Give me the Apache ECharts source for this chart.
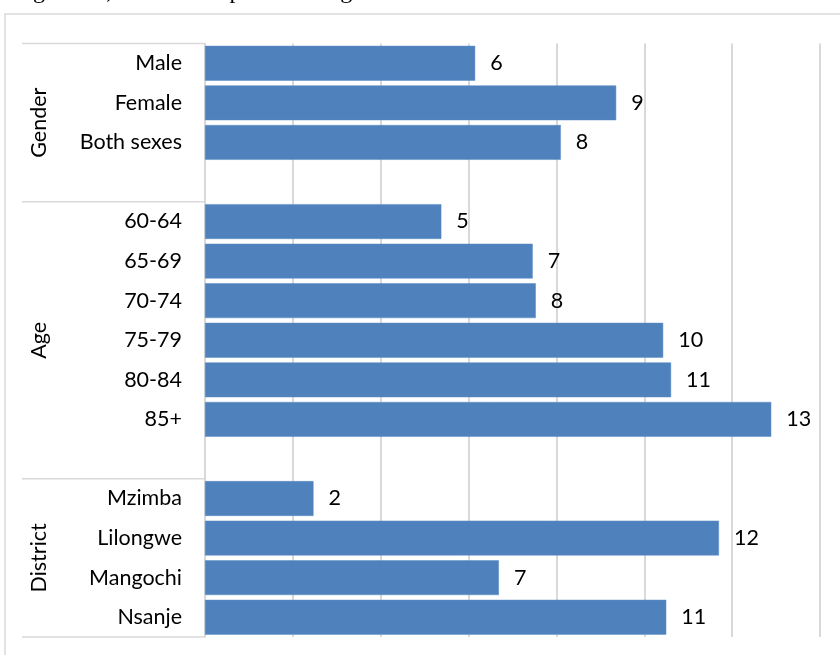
<!DOCTYPE html>
<html>
<head>
<meta charset="utf-8">
<script src="https://cdn.jsdelivr.net/npm/echarts@6/dist/echarts.min.js"></script>
<style>
  html, body { margin: 0; padding: 0; background: #fff; }
  #chart { width: 840px; height: 655px; }
</style>
</head>
<body>
<div id="chart"></div>
<script>
// groups of the category axis
var groupNames = ['Gender', 'Age', 'District'];
var genderLabels = ['Male', 'Female', 'Both sexes'];
var genderValues = [6.15, 9.36, 8.1];
var ageLabels = ['60-64', '65-69', '70-74', '75-79', '80-84', '85+'];
var ageValues = [5.38, 7.46, 7.53, 10.43, 10.61, 12.89];
var districtLabels = ['Mzimba', 'Lilongwe', 'Mangochi', 'Nsanje'];
var districtValues = [2.47, 11.7, 6.69, 10.5];

var groupLabels = [genderLabels, ageLabels, districtLabels];
var groupValues = [genderValues, ageValues, districtValues];

// flatten with an empty slot between groups
var categories = [];
var values = [];
var groupStart = [];
for (var g = 0; g < groupLabels.length; g = g + 1) {
    if (g > 0) {
        categories.push(' ' + g);
        values.push(null);
    }
    groupStart.push(categories.length);
    for (var i = 0; i < groupLabels[g].length; i = i + 1) {
        categories.push(groupLabels[g][i]);
        values.push(groupValues[g][i]);
    }
}

var font = 'Lato';
var fontSize = 21.5;
var chart = echarts.init(document.getElementById('chart'));
chart.setOption({
    animation: false,
    grid: {left: 205, top: 43.5, width: 615, height: 593.5},
    xAxis: {
        type: 'value',
        min: 0,
        max: 14,
        interval: 2,
        axisLabel: {show: false},
        axisLine: {show: false},
        axisTick: {show: false},
        splitLine: {lineStyle: {color: '#d9d9d9', width: 2}}
    },
    yAxis: {
        type: 'category',
        inverse: true,
        data: categories,
        axisLine: {lineStyle: {color: '#d9d9d9', width: 1.5}},
        axisTick: {show: false},
        axisLabel: {
            margin: 23,
            color: '#000',
            fontFamily: font,
            fontSize: fontSize,
            formatter: function (v) {
                return v.charAt(0) === ' ' ? '' : v;
            }
        }
    },
    series: [{
        type: 'bar',
        data: values,
        barCategoryGap: '12%',
        itemStyle: {color: '#4f81bd', borderColor: '#5b8cc6', borderWidth: 0.5},
        label: {
            show: true,
            position: 'right',
            distance: 15,
            color: '#000',
            fontFamily: font,
            fontSize: fontSize,
            formatter: function (p) {
                return p.value == null ? '' : Math.round(p.value);
            }
        }
    }]
});

// multi-level axis: separators and rotated group names
function catEdge(idx) {
    var a = chart.convertToPixel({yAxisIndex: 0}, categories[0]);
    var b = chart.convertToPixel({yAxisIndex: 0}, categories[1]);
    var band = b - a;
    return a - band / 2 + band * idx;
}
var graphics = [{
    type: 'rect',
    shape: {x: 5, y: 14, width: 850, height: 660},
    style: {fill: 'none', stroke: '#d9d9d9', lineWidth: 1.5},
    silent: true
}, {
    // caption of the figure, cut off by the top edge
    type: 'text',
    x: 13,
    y: 4,
    style: {
        text: 'Figure 13; Rate of the prescreening results',
        font: '24px "Liberation Serif"',
        fill: '#000',
        verticalAlign: 'bottom'
    }
}];
var edges = [];
for (var g = 0; g < groupStart.length; g = g + 1) {
    edges.push(catEdge(groupStart[g]));
}
edges.push(catEdge(categories.length));
for (var k = 0; k < edges.length; k = k + 1) {
    graphics.push({
        type: 'line',
        shape: {x1: 22, y1: edges[k], x2: 205, y2: edges[k]},
        style: {stroke: '#d9d9d9', lineWidth: 1.5},
        silent: true
    });
}
for (var g = 0; g < groupNames.length; g = g + 1) {
    graphics.push({
        type: 'text',
        x: 39,
        y: (edges[g] + edges[g + 1]) / 2,
        rotation: Math.PI / 2,
        style: {
            text: groupNames[g],
            font: fontSize + 'px ' + font,
            fill: '#000',
            align: 'center',
            verticalAlign: 'middle'
        }
    });
}
chart.setOption({graphic: graphics});
</script>
</body>
</html>
